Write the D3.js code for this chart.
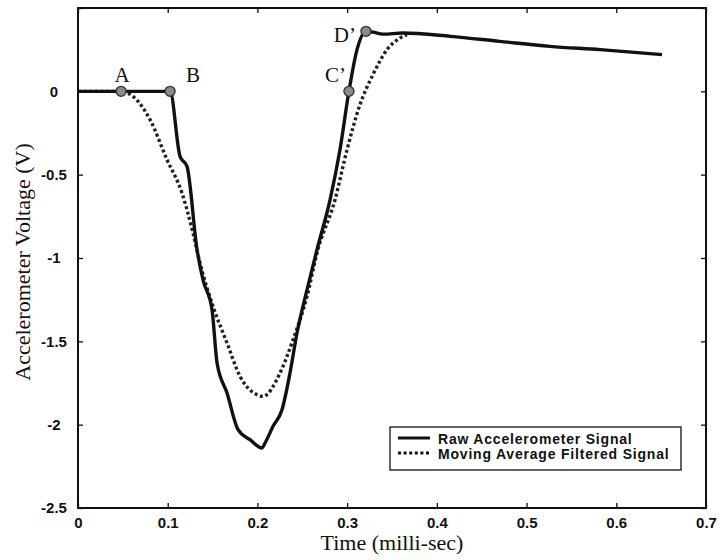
<!DOCTYPE html>
<html>
<head>
<meta charset="utf-8">
<script src="https://cdn.jsdelivr.net/npm/d3@7/dist/d3.min.js"></script>
<style>
  html, body { margin: 0; padding: 0; background: #fff; }
  svg { display: block; }
</style>
</head>
<body>
<svg id="chart" width="723" height="560"></svg>
<script>
// ---- data ----
const rawTime = [0, 0.1026, 0.1137, 0.1215, 0.1327, 0.1393, 0.1494, 0.155, 0.1661, 0.1784, 0.1917, 0.2051,
  0.2085, 0.2174, 0.2274, 0.2363, 0.2441, 0.2553, 0.2664, 0.281, 0.292, 0.302, 0.311, 0.321, 0.329, 0.340,
  0.362, 0.415, 0.470, 0.526, 0.582, 0.651];
const rawVolt = [0, 0, -0.39, -0.45, -0.95, -1.13, -1.31, -1.63, -1.81, -2.03, -2.09, -2.14,
  -2.11, -2.01, -1.91, -1.69, -1.45, -1.19, -0.95, -0.65, -0.35, 0, 0.25, 0.36, 0.355, 0.343,
  0.35, 0.33, 0.30, 0.27, 0.25, 0.22];
const filtTime = [0, 0.048, 0.0613, 0.0803, 0.0992, 0.1159, 0.1282, 0.136, 0.1505, 0.1661, 0.1806, 0.1995,
  0.2062, 0.2252, 0.2397, 0.2553, 0.2664, 0.2865, 0.2999, 0.3143, 0.3288, 0.3444, 0.3589, 0.3667];
const filtVolt = [0, 0, -0.03, -0.17, -0.41, -0.61, -0.85, -1.03, -1.29, -1.51, -1.71, -1.82,
  -1.83, -1.69, -1.49, -1.23, -0.97, -0.65, -0.35, -0.08, 0.10, 0.25, 0.32, 0.34];
const markerNames = ["A", "B", "C\u2019", "D\u2019"];
const markerTime = [0.048, 0.1026, 0.302, 0.321];
const markerVolt = [0, 0, 0, 0.36];
const xTicks = [0, 0.1, 0.2, 0.3, 0.4, 0.5, 0.6, 0.7];
const yTicks = [0.5, 0, -0.5, -1, -1.5, -2, -2.5];
const legendLabels = ["Raw Accelerometer Signal", "Moving Average Filtered Signal"];

// ---- layout ----
const svg = d3.select("#chart");
const L = 78, R = 706, T = 8, B = 508;
const x = d3.scaleLinear().domain([0, 0.7]).range([L, R]);
const y = d3.scaleLinear().domain([-2.5, 0.5]).range([B, T]);

const tickFont = "'Liberation Sans', Arial, Helvetica, sans-serif";
const serif = "'Liberation Serif', 'Times New Roman', Times, serif";

// axes (hyphen-minus labels like the original)
const fmt = d => (d === 0 ? "0" : String(d));
const gx = svg.append("g").attr("transform", `translate(0,${B})`)
  .call(d3.axisBottom(x).tickValues(xTicks).tickSize(-5).tickPadding(9).tickFormat(fmt));
const gxt = svg.append("g").attr("transform", `translate(0,${T})`)
  .call(d3.axisTop(x).tickValues(xTicks).tickSize(-5).tickFormat(""));
const gy = svg.append("g").attr("transform", `translate(${L},0)`)
  .call(d3.axisLeft(y).tickValues(yTicks).tickSize(-5).tickPadding(9)
    .tickFormat(d => d === 0.5 ? "" : fmt(d)));
const gyr = svg.append("g").attr("transform", `translate(${R},0)`)
  .call(d3.axisRight(y).tickValues(yTicks).tickSize(-5).tickFormat(""));

[gx, gxt, gy, gyr].forEach(g => {
  g.select(".domain").remove();
  g.selectAll(".tick line").attr("stroke", "#111").attr("stroke-width", 1.3);
  g.selectAll("text").attr("font-family", tickFont).attr("font-weight", "bold")
    .attr("font-size", 15).attr("fill", "#111");
});
gy.selectAll(".tick text").attr("text-anchor", "middle").attr("x", -24);

// frame
svg.append("rect").attr("x", L).attr("y", T).attr("width", R - L).attr("height", B - T)
  .attr("fill", "none").attr("stroke", "#111").attr("stroke-width", 2);

// lines
const rawData = rawTime.map((t, i) => [t, rawVolt[i]]);
const filtData = filtTime.map((t, i) => [t, filtVolt[i]]);
const line = d3.line().x(d => x(d[0])).y(d => y(d[1])).curve(d3.curveMonotoneX);

svg.append("path").datum(filtData).attr("d", line)
  .attr("fill", "none").attr("stroke", "#222").attr("stroke-width", 3.4)
  .attr("stroke-dasharray", "3,2.6");
svg.append("path").datum(rawData).attr("d", line)
  .attr("fill", "none").attr("stroke", "#111").attr("stroke-width", 3.4)
  .attr("stroke-linejoin", "round");

// markers
const mk = markerNames.map((n, i) => ({ n, t: markerTime[i], v: markerVolt[i] }));
svg.selectAll("circle.mk").data(mk).enter().append("circle").attr("class", "mk")
  .attr("cx", d => x(d.t)).attr("cy", d => y(d.v)).attr("r", 5)
  .attr("fill", "#8a8a8a").attr("stroke", "#333").attr("stroke-width", 1.4);

const labelOffsets = { "A": [1, -9, "middle"], "B": [23, -9, "middle"], "C\u2019": [-3, -9, "end"], "D\u2019": [-10, 11, "end"] };
svg.selectAll("text.mk").data(mk).enter().append("text").attr("class", "mk")
  .attr("x", d => x(d.t) + labelOffsets[d.n][0]).attr("y", d => y(d.v) + labelOffsets[d.n][1])
  .attr("text-anchor", d => labelOffsets[d.n][2])
  .attr("font-family", serif).attr("font-size", 21).attr("fill", "#111")
  .text(d => d.n);

// axis titles
svg.append("text").attr("x", 392).attr("y", 550).attr("text-anchor", "middle")
  .attr("font-family", serif).attr("font-size", 22).attr("fill", "#111")
  .text("Time (milli-sec)");
svg.append("text").attr("transform", "translate(30,262) rotate(-90)").attr("text-anchor", "middle")
  .attr("font-family", serif).attr("font-size", 22).attr("fill", "#111")
  .text("Accelerometer Voltage (V)");

// legend
const lg = svg.append("g");
lg.append("rect").attr("x", 390).attr("y", 427).attr("width", 291).attr("height", 43)
  .attr("fill", "#fff").attr("stroke", "#111").attr("stroke-width", 1.3);
legendLabels.forEach((lab, i) => {
  const yy = 438 + i * 15;
  lg.append("line").attr("x1", 398).attr("x2", 430).attr("y1", yy).attr("y2", yy)
    .attr("stroke", "#111").attr("stroke-width", 3)
    .attr("stroke-dasharray", i === 1 ? "3,2.6" : null);
  lg.append("text").attr("x", 438).attr("y", yy + 5.5)
    .attr("font-family", tickFont).attr("font-size", 14).attr("font-weight", "bold")
    .attr("letter-spacing", 0.8).attr("fill", "#111")
    .text(lab);
});
</script>
</body>
</html>
